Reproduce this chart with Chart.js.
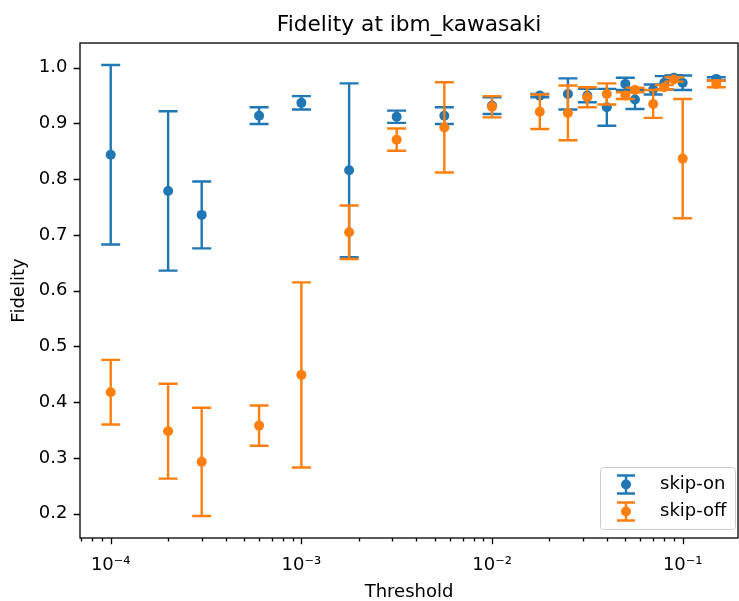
<!DOCTYPE html>
<html>
<head>
<meta charset="utf-8">
<script src="https://cdn.jsdelivr.net/npm/chart.js@4.4.1/dist/chart.umd.min.js"></script>
<style>
  html, body { margin: 0; padding: 0; background: #ffffff; }
  canvas { display: block; }
</style>
</head>
<body>
<canvas id="c" width="739" height="601"></canvas>
<script>
// ---- data ----
const thresholds = [1e-4, 2e-4, 3e-4, 6e-4, 1e-3, 1.78e-3, 3.16e-3, 5.62e-3, 1e-2, 1.78e-2,
                    0.025, 0.0316, 0.04, 0.05, 0.0562, 0.07, 0.08, 0.09, 0.1, 0.15];
const skipOnMean = [0.844, 0.779, 0.736, 0.914, 0.937, 0.816, 0.912, 0.914, 0.932, 0.950,
                    0.953, 0.950, 0.929, 0.971, 0.943, 0.961, 0.973, 0.982, 0.973, 0.980];
const skipOnErr  = [0.161, 0.143, 0.060, 0.015, 0.012, 0.156, 0.011, 0.015, 0.015, 0.003,
                    0.028, 0.012, 0.033, 0.011, 0.017, 0.009, 0.012, 0.004, 0.013, 0.003];
const skipOffMean = [0.418, 0.348, 0.293, 0.358, 0.449, 0.705, 0.871, 0.893, 0.930, 0.921,
                     0.919, 0.947, 0.953, 0.950, 0.960, 0.935, 0.965, 0.979, 0.837, 0.971];
const skipOffErr  = [0.058, 0.085, 0.097, 0.036, 0.166, 0.048, 0.020, 0.081, 0.019, 0.031,
                     0.049, 0.018, 0.019, 0.006, 0.004, 0.025, 0.004, 0.004, 0.107, 0.006];
const seriesLabels = ['skip-on', 'skip-off'];
const xTickValues = [1e-4, 1e-3, 1e-2, 1e-1];
const xTickLabels = ['10\u207B\u2074', '10\u207B\u00B3', '10\u207B\u00B2', '10\u207B\u00B9'];
const yTickValues = [0.2, 0.3, 0.4, 0.5, 0.6, 0.7, 0.8, 0.9, 1.0];
const yTickLabels = ['0.2', '0.3', '0.4', '0.5', '0.6', '0.7', '0.8', '0.9', '1.0'];

// ---- styling ----
const BLUE = '#1f77b4';
const ORANGE = '#ff7f0e';
const FONT = "'DejaVu Sans', 'Liberation Sans', sans-serif";
Chart.defaults.font.family = FONT;
Chart.defaults.color = '#000000';

const CAP = 9.5;
const ELW = 2.4;

const errorBarPlugin = {
  id: 'errorBars',
  beforeDatasetDraw(chart, args) {
    const ds = chart.data.datasets[args.index];
    if (!ds.errors) return;
    const ctx = chart.ctx;
    const xs = chart.scales.x, ys = chart.scales.y;
    const a = chart.chartArea;
    ctx.save();
    ctx.beginPath();
    ctx.rect(a.left, a.top, a.right - a.left, a.bottom - a.top);
    ctx.clip();
    ctx.strokeStyle = ds.borderColor;
    ctx.lineWidth = ELW;
    ctx.lineCap = 'butt';
    ds.data.forEach((p, i) => {
      const e = ds.errors[i];
      const px = xs.getPixelForValue(p.x);
      const pt = ys.getPixelForValue(p.y + e);
      const pb = ys.getPixelForValue(p.y - e);
      ctx.beginPath();
      ctx.moveTo(px, pt); ctx.lineTo(px, pb);
      ctx.moveTo(px - CAP, pt); ctx.lineTo(px + CAP, pt);
      ctx.moveTo(px - CAP, pb); ctx.lineTo(px + CAP, pb);
      ctx.stroke();
    });
    ctx.restore();
  }
};

const framePlugin = {
  id: 'frameTicks',
  afterDatasetsDraw(chart) {
    const ctx = chart.ctx;
    const a = chart.chartArea;
    const xs = chart.scales.x, ys = chart.scales.y;
    ctx.save();
    ctx.strokeStyle = '#000000';
    ctx.lineWidth = 1.3;
    ctx.strokeRect(a.left, a.top, a.right - a.left, a.bottom - a.top);
    ctx.beginPath();
    for (let d = -6; d <= 1; d++) {
      for (let k = 1; k <= 9; k++) {
        const v = k * Math.pow(10, d);
        if (v < xs.min || v > xs.max) continue;
        const px = Math.round(xs.getPixelForValue(v)) + 0.5;
        const len = (k === 1) ? 6.3 : 3.6;
        ctx.moveTo(px, a.bottom);
        ctx.lineTo(px, a.bottom + len);
      }
    }
    yTickValues.forEach(v => {
      const py = Math.round(ys.getPixelForValue(v)) + 0.5;
      ctx.moveTo(a.left, py);
      ctx.lineTo(a.left - 6.3, py);
    });
    ctx.stroke();
    ctx.restore();
  },
  afterDraw(chart) {
    const ctx = chart.ctx;
    const a = chart.chartArea;
    const w = 135, h = 62;
    const x0 = a.right - 2.5 - w, y0 = a.bottom - 8.5 - h;
    ctx.save();
    ctx.beginPath();
    const r = 3;
    ctx.moveTo(x0 + r, y0);
    ctx.lineTo(x0 + w - r, y0); ctx.quadraticCurveTo(x0 + w, y0, x0 + w, y0 + r);
    ctx.lineTo(x0 + w, y0 + h - r); ctx.quadraticCurveTo(x0 + w, y0 + h, x0 + w - r, y0 + h);
    ctx.lineTo(x0 + r, y0 + h); ctx.quadraticCurveTo(x0, y0 + h, x0, y0 + h - r);
    ctx.lineTo(x0, y0 + r); ctx.quadraticCurveTo(x0, y0, x0 + r, y0);
    ctx.closePath();
    ctx.fillStyle = 'rgba(255,255,255,0.8)';
    ctx.fill();
    ctx.strokeStyle = '#cccccc';
    ctx.lineWidth = 1;
    ctx.stroke();
    const colors = [BLUE, ORANGE];
    seriesLabels.forEach((lab, i) => {
      const cy = y0 + 17 + i * 27;
      const cx = x0 + 25.5;
      ctx.strokeStyle = colors[i];
      ctx.lineWidth = ELW;
      ctx.beginPath();
      ctx.moveTo(cx, cy - 9); ctx.lineTo(cx, cy + 9);
      ctx.moveTo(cx - 9, cy - 9); ctx.lineTo(cx + 9, cy - 9);
      ctx.moveTo(cx - 9, cy + 9); ctx.lineTo(cx + 9, cy + 9);
      ctx.stroke();
      ctx.fillStyle = colors[i];
      ctx.beginPath();
      ctx.arc(cx, cy, 5, 0, Math.PI * 2);
      ctx.fill();
      ctx.fillStyle = '#000000';
      ctx.font = '18px ' + FONT;
      ctx.textBaseline = 'middle';
      ctx.textAlign = 'left';
      ctx.fillText(lab, x0 + 59.5, cy);
    });
    ctx.restore();
  }
};

function points(ys) { return thresholds.map((t, i) => ({ x: t, y: ys[i] })); }

new Chart(document.getElementById('c'), {
  type: 'scatter',
  data: {
    datasets: [
      { label: seriesLabels[0], data: points(skipOnMean), errors: skipOnErr,
        backgroundColor: BLUE, borderColor: BLUE, pointRadius: 5, pointBorderWidth: 0,
        pointHoverRadius: 5, order: 2 },
      { label: seriesLabels[1], data: points(skipOffMean), errors: skipOffErr,
        backgroundColor: ORANGE, borderColor: ORANGE, pointRadius: 5, pointBorderWidth: 0,
        pointHoverRadius: 5, order: 1 }
    ]
  },
  options: {
    responsive: false,
    animation: false,
    devicePixelRatio: 1,
    layout: { autoPadding: false, padding: { left: 0, right: 1, top: 0, bottom: 0 } },
    plugins: {
      legend: { display: false },
      tooltip: { enabled: false },
      title: {
        display: true, text: 'Fidelity at ibm_kawasaki', fullSize: false,
        color: '#000000',
        font: { size: 21.7, weight: 'normal', lineHeight: 1.2 },
        padding: { top: 12, bottom: 5 }
      }
    },
    scales: {
      x: {
        type: 'logarithmic', min: 6.9e-5, max: 0.195, bounds: 'data',
        grid: { display: false, drawTicks: false },
        border: { display: false },
        ticks: {
          padding: 17, color: '#000000', font: { size: 18 }, maxRotation: 0, autoSkip: false,
          callback: (v, i) => xTickLabels[i]
        },
        afterBuildTicks: s => { s.ticks = xTickValues.map(v => ({ value: v })); },
        afterFit: s => { s.height = 63; s.paddingLeft = 0; s.paddingRight = 0; },
        title: { display: true, text: 'Threshold', color: '#000000',
                 font: { size: 18, lineHeight: 1 }, padding: { top: 0, bottom: 0 } }
      },
      y: {
        type: 'linear', min: 0.1564, max: 1.0443, bounds: 'data',
        grid: { display: false, drawTicks: false },
        border: { display: false },
        ticks: {
          padding: 12.6, color: '#000000', font: { size: 18 }, autoSkip: false,
          callback: (v, i) => yTickLabels[i]
        },
        afterBuildTicks: s => { s.ticks = yTickValues.map(v => ({ value: v })); },
        afterFit: s => { s.width = 80; s.paddingTop = 0; s.paddingBottom = 0; },
        title: { display: true, text: 'Fidelity', color: '#000000',
                 font: { size: 18, lineHeight: 1.2 }, padding: { top: 8.2, bottom: 0 } }
      }
    }
  },
  plugins: [errorBarPlugin, framePlugin]
});
</script>
</body>
</html>
